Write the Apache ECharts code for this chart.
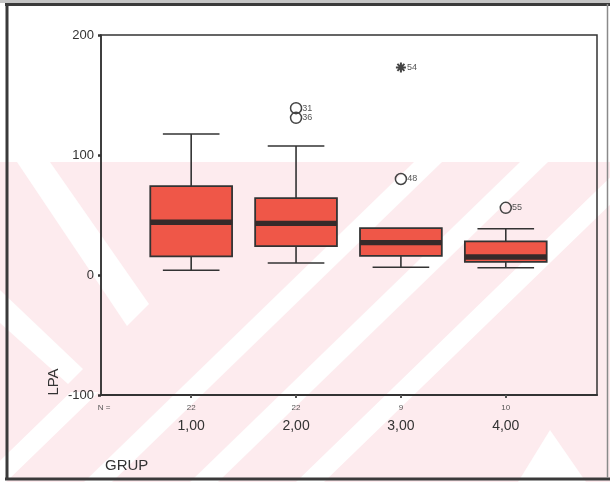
<!DOCTYPE html>
<html>
<head>
<meta charset="utf-8">
<script src="https://cdn.jsdelivr.net/npm/echarts@6/dist/echarts.min.js"></script>
<style>
  html, body { margin: 0; padding: 0; background: #fff; }
  #chart { width: 610px; height: 482px; }
</style>
</head>
<body>
<div id="chart"></div>
<script>
// LPA by GRUP: box summaries per group
const groupLabels = ['1,00', '2,00', '3,00', '4,00'];
const groupPos = [1, 2, 3, 4];
const groupN = [22, 22, 9, 10];
const whiskerLow = [4, 10, 6.5, 6];
const q1 = [15.5, 24, 16, 11];
const median = [44, 43, 27, 15];
const q3 = [74, 64, 39, 28];
const whiskerHigh = [117.5, 107.5, 39, 38.5];

// outliers (circles) and extremes (asterisks), with case numbers
const outlierGroup = [2, 2, 3, 4];
const outlierValue = [139, 131, 80, 56];
const outlierCase = ['31', '36', '48', '55'];
const extremeGroup = [3];
const extremeValue = [173];
const extremeCase = ['54'];

const yTicks = [-100, 0, 100, 200];

const FONT = 'Liberation Sans, Arial, sans-serif';
const INK = '#333';

const boxData = groupPos.map((g, i) => [g, whiskerLow[i], q1[i], median[i], q3[i], whiskerHigh[i]]);
const outlierData = outlierGroup.map((g, i) => ({ value: [g, outlierValue[i]], name: outlierCase[i] }));
const extremeData = extremeGroup.map((g, i) => ({ value: [g, extremeValue[i]], name: extremeCase[i] }));

// pale pink background stamp with white diagonal bands
const PINK = '#fdebee';
const bandTop = 162, bandBot = 482;
function slashBand(xTop, w, yStart) {
  const y0 = yStart || bandTop;
  const k = 330 / (bandBot - bandTop);
  const xa = xTop - (y0 - bandTop) * k;
  const xb = xTop - (bandBot - bandTop) * k;
  return [[xa - w / 2, y0], [xa + w / 2, y0], [xb + w / 2, bandBot], [xb - w / 2, bandBot]];
}
const stampShapes = [
  slashBand(428, 28),
  slashBand(534, 28),
  slashBand(640, 28),
  slashBand(322, 28, 392),
  [[17, 162], [50, 162], [149, 304], [127, 326]],
  [[0, 290], [0, 323], [68, 384], [83, 369]],
  [[518, 482], [550, 430], [586, 482]]
];
const graphics = [
  { type: 'rect', z: -10, silent: true, shape: { x: 0, y: bandTop, width: 610, height: bandBot - bandTop }, style: { fill: PINK } }
].concat(stampShapes.map(pts => ({
  type: 'polygon', z: -9, silent: true, shape: { points: pts }, style: { fill: '#fff' }
}))).concat([
  // page frame
  { type: 'rect', z: 50, silent: true, shape: { x: 0, y: 0, width: 610, height: 3 }, style: { fill: '#c4c4c4' } },
  { type: 'line', z: 50, silent: true, shape: { x1: 5, y1: 4.5, x2: 610, y2: 4.5 }, style: { stroke: '#3a3a3a', lineWidth: 3 } },
  { type: 'line', z: 50, silent: true, shape: { x1: 7, y1: 4, x2: 7, y2: 480 }, style: { stroke: '#3a3a3a', lineWidth: 3 } },
  { type: 'line', z: 50, silent: true, shape: { x1: 5, y1: 479, x2: 610, y2: 479 }, style: { stroke: '#3a3a3a', lineWidth: 3 } },
  { type: 'line', z: 50, silent: true, shape: { x1: 607.5, y1: 4, x2: 607.5, y2: 478 }, style: { stroke: '#8a8a8a', lineWidth: 1.5 } },
  // axis titles and count header
  { type: 'text', z: 50, left: 105, top: 458, style: { text: 'GRUP', font: '15px ' + FONT, fill: INK } },
  { type: 'text', z: 50, x: 54, y: 382, rotation: Math.PI / 2, style: { text: 'LPA', font: '15px ' + FONT, fill: INK, align: 'center', verticalAlign: 'middle' } },
  { type: 'text', z: 50, x: 104, y: 408, style: { text: 'N =', font: '8px ' + FONT, fill: '#555', align: 'center', verticalAlign: 'middle' } }
]);

const chart = echarts.init(document.getElementById('chart'), null, { renderer: 'canvas' });
chart.setOption({
  backgroundColor: 'transparent',
  animation: false,
  graphic: graphics,
  grid: {
    left: 101, right: 13, top: 35, bottom: 87,
    show: true, borderColor: INK, borderWidth: 1.5, backgroundColor: 'transparent'
  },
  xAxis: {
    type: 'value', min: 0.14, max: 4.87,
    splitLine: { show: false },
    axisLine: { show: true, onZero: false, lineStyle: { color: INK, width: 2 } },
    axisTick: { show: true, customValues: groupPos, length: 3, inside: false, lineStyle: { color: '#555', width: 2 } },
    axisLabel: {
      customValues: groupPos, margin: 7,
      formatter: v => {
        const i = groupPos.indexOf(v);
        return i < 0 ? '' : '{n|' + groupN[i] + '}\n{g|' + groupLabels[i] + '}';
      },
      rich: {
        n: { fontSize: 8, lineHeight: 12, color: '#555', fontFamily: FONT },
        g: { fontSize: 14, lineHeight: 24, color: INK, fontFamily: FONT }
      }
    }
  },
  yAxis: {
    type: 'value', min: -100, max: 200, interval: 100,
    splitLine: { show: false },
    axisLine: { show: true, onZero: false, lineStyle: { color: INK, width: 1.5 } },
    axisTick: { show: true, length: 3, lineStyle: { color: INK, width: 2.5 } },
    axisLabel: { color: INK, fontSize: 13, fontFamily: FONT, margin: 7, customValues: yTicks }
  },
  series: [
    {
      type: 'custom',
      z: 3,
      data: boxData,
      renderItem: (params, api) => {
        const x = api.value(0);
        const unit = api.size([1, 0])[0];
        const hb = unit * 0.39, hc = unit * 0.27;
        const pLow = api.coord([x, api.value(1)]);
        const pQ1 = api.coord([x, api.value(2)]);
        const pMed = api.coord([x, api.value(3)]);
        const pQ3 = api.coord([x, api.value(4)]);
        const pHigh = api.coord([x, api.value(5)]);
        const cx = pMed[0];
        const line = { stroke: INK, lineWidth: 1.6 };
        const kids = [
          { type: 'line', shape: { x1: cx, y1: pHigh[1], x2: cx, y2: pQ3[1] }, style: line },
          { type: 'line', shape: { x1: cx, y1: pQ1[1], x2: cx, y2: pLow[1] }, style: line },
          { type: 'line', shape: { x1: cx - hc, y1: pLow[1], x2: cx + hc, y2: pLow[1] }, style: line },
          { type: 'rect', shape: { x: cx - hb, y: pQ3[1], width: 2 * hb, height: pQ1[1] - pQ3[1] },
            style: { fill: '#ef5748', stroke: INK, lineWidth: 1.8 } },
          { type: 'rect', shape: { x: cx - hb, y: pMed[1] - 2.7, width: 2 * hb, height: 5.4 },
            style: { fill: '#362a2a' } }
        ];
        if (pHigh[1] < pQ3[1] - 0.5) {
          kids.push({ type: 'line', shape: { x1: cx - hc, y1: pHigh[1], x2: cx + hc, y2: pHigh[1] }, style: line });
        }
        return { type: 'group', children: kids };
      }
    },
    {
      type: 'scatter',
      z: 4,
      data: outlierData,
      symbol: 'circle',
      symbolSize: 11,
      itemStyle: { color: 'transparent', borderColor: '#444', borderWidth: 1.5, opacity: 1 },
      label: {
        show: true, position: 'right', distance: 0,
        formatter: p => p.name, fontSize: 9, color: '#555', fontFamily: FONT
      }
    },
    {
      type: 'scatter',
      z: 4,
      data: extremeData,
      symbol: 'path://M0,5 L10,5 M1.5,1.5 L8.5,8.5 M1.5,8.5 L8.5,1.5 M5,0 L5,10',
      symbolSize: 10,
      itemStyle: { color: 'transparent', borderColor: '#444', borderWidth: 2, opacity: 1 },
      label: {
        show: true, position: 'right', distance: 0,
        formatter: p => p.name, fontSize: 9, color: '#555', fontFamily: FONT
      }
    }
  ]
});
</script>
</body>
</html>
